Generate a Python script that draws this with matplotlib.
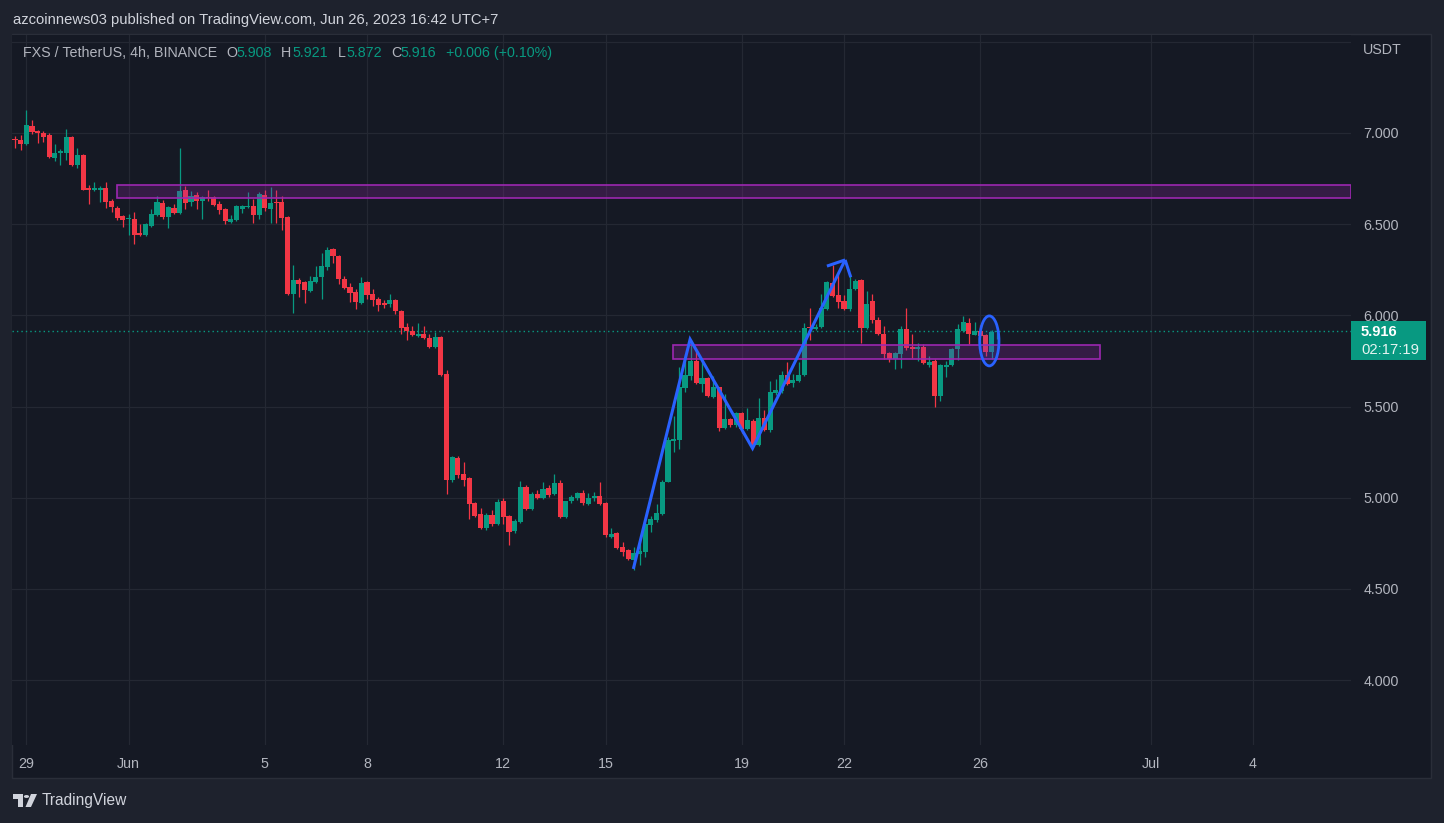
import matplotlib
matplotlib.use("Agg")
import matplotlib.pyplot as plt
import matplotlib.dates as mdates
import pandas as pd
from matplotlib.patches import Rectangle, Ellipse, Circle, Polygon

# ---------------- data (FXS/USDT 4h candles) ----------------
opens = [6.965, 6.96, 6.94, 7.038, 7.01, 7.0, 6.99, 6.86, 6.89, 6.89,
         6.978, 6.825, 6.88, 6.695, 6.69, 6.69, 6.70, 6.627, 6.59, 6.546,
         6.528, 6.53, 6.45, 6.44, 6.49, 6.55, 6.616, 6.539, 6.59, 6.56,
         6.69, 6.62, 6.66, 6.627, 6.645, 6.65, 6.61, 6.583, 6.512, 6.523,
         6.583, 6.592, 6.60, 6.55, 6.66, 6.583, 6.618, 6.62, 6.54, 6.117,
         6.194, 6.183, 6.134, 6.183, 6.21, 6.265, 6.364, 6.326, 6.20, 6.156,
         6.128, 6.068, 6.183, 6.117, 6.09, 6.068, 6.062, 6.084, 6.024, 5.936,
         5.914, 5.887, 5.90, 5.876, 5.827, 5.88, 5.679, 5.098, 5.218, 5.13,
         5.109, 4.97, 4.911, 4.834, 4.906, 4.856, 4.98, 4.90, 4.818, 4.867,
         5.06, 4.94, 5.02, 5.0, 5.054, 5.02, 5.08, 4.895, 4.98, 5.0,
         5.026, 4.966, 5.0, 5.01, 4.97, 4.785, 4.807, 4.73, 4.714, 4.659,
         4.69, 4.703, 4.85, 4.878, 4.91, 5.087, 5.31, 5.317, 5.60, 5.668,
         5.75, 5.624, 5.657, 5.553, 5.607, 5.383, 5.432, 5.40, 5.465, 5.377,
         5.421, 5.289, 5.438, 5.372, 5.575, 5.585, 5.673, 5.63, 5.642, 5.673,
         5.932, 5.925, 5.936, 6.035, 6.178, 6.112, 6.08, 6.035, 6.145, 6.194,
         5.93, 6.08, 5.975, 5.90, 5.794, 5.76, 5.788, 5.925, 5.827, 5.816,
         5.827, 5.728, 5.75, 5.558, 5.717, 5.728, 5.816, 5.914, 5.958, 5.893,
         5.914, 5.893, 5.80, 5.908]
highs = [6.984, 6.99, 7.126, 7.07, 7.016, 7.01, 7.0, 6.94, 6.912, 7.02,
         6.985, 6.918, 6.885, 6.715, 6.73, 6.71, 6.73, 6.64, 6.60, 6.55,
         6.556, 6.567, 6.50, 6.505, 6.583, 6.655, 6.633, 6.60, 6.61, 6.918,
         6.71, 6.682, 6.677, 6.655, 6.688, 6.655, 6.627, 6.59, 6.55, 6.605,
         6.605, 6.677, 6.638, 6.677, 6.688, 6.704, 6.688, 6.655, 6.545, 6.276,
         6.205, 6.19, 6.216, 6.27, 6.342, 6.375, 6.37, 6.33, 6.216, 6.178,
         6.145, 6.21, 6.19, 6.145, 6.10, 6.084, 6.117, 6.09, 6.03, 5.958,
         5.942, 5.958, 5.942, 5.898, 5.909, 5.885, 5.70, 5.23, 5.23, 5.196,
         5.115, 4.977, 4.944, 4.917, 4.933, 4.993, 5.0, 4.905, 4.884, 5.092,
         5.07, 5.032, 5.043, 5.087, 5.07, 5.13, 5.098, 4.985, 5.015, 5.032,
         5.043, 5.026, 5.032, 5.087, 4.975, 4.834, 4.81, 4.758, 4.72, 4.73,
         4.768, 4.86, 4.90, 4.966, 5.098, 5.333, 5.45, 5.717, 5.788, 5.865,
         5.81, 5.755, 5.66, 5.668, 5.61, 5.569, 5.438, 5.47, 5.47, 5.49,
         5.432, 5.547, 5.48, 5.64, 5.65, 5.695, 5.745, 5.68, 5.745, 5.958,
         6.04, 5.95, 6.117, 6.19, 6.276, 6.227, 6.112, 6.227, 6.20, 6.20,
         6.134, 6.117, 5.99, 5.94, 5.80, 5.80, 5.942, 6.04, 5.90, 5.85,
         5.843, 5.777, 5.76, 5.735, 5.75, 5.82, 5.953, 5.997, 5.986, 5.964,
         5.947, 5.90, 5.92, 5.921]
lows = [6.92, 6.907, 6.935, 6.995, 6.944, 6.95, 6.865, 6.846, 6.825, 6.85,
        6.82, 6.81, 6.685, 6.612, 6.684, 6.623, 6.59, 6.569, 6.523, 6.486,
        6.44, 6.39, 6.435, 6.435, 6.485, 6.545, 6.53, 6.48, 6.555, 6.555,
        6.583, 6.60, 6.583, 6.53, 6.627, 6.60, 6.556, 6.50, 6.507, 6.518,
        6.561, 6.588, 6.507, 6.53, 6.572, 6.507, 6.507, 6.468, 6.11, 6.013,
        6.10, 6.068, 6.13, 6.18, 6.09, 6.25, 6.287, 6.172, 6.145, 6.073,
        6.035, 6.06, 6.09, 6.05, 6.024, 6.04, 6.046, 6.008, 5.898, 5.865,
        5.888, 5.882, 5.87, 5.82, 5.82, 5.668, 5.02, 5.087, 5.109, 5.065,
        4.884, 4.895, 4.83, 4.823, 4.845, 4.85, 4.856, 4.74, 4.807, 4.86,
        4.935, 4.933, 4.995, 4.995, 5.004, 5.015, 4.889, 4.89, 4.97, 4.99,
        4.96, 4.96, 4.98, 4.96, 4.785, 4.78, 4.72, 4.68, 4.66, 4.604,
        4.63, 4.675, 4.813, 4.867, 4.905, 5.085, 5.25, 5.268, 5.58, 5.646,
        5.624, 5.58, 5.55, 5.547, 5.366, 5.377, 5.388, 5.388, 5.355, 5.37,
        5.284, 5.284, 5.366, 5.36, 5.564, 5.575, 5.62, 5.607, 5.635, 5.67,
        5.865, 5.92, 5.93, 6.03, 6.10, 6.04, 6.03, 6.024, 6.14, 5.85,
        5.925, 5.958, 5.893, 5.76, 5.745, 5.706, 5.71, 5.81, 5.766, 5.75,
        5.733, 5.717, 5.498, 5.53, 5.66, 5.722, 5.755, 5.91, 5.843, 5.89,
        5.88, 5.777, 5.76, 5.872]
closes = [6.96, 6.94, 7.044, 7.007, 7.0, 6.98, 6.87, 6.89, 6.90, 6.978,
          6.825, 6.88, 6.69, 6.69, 6.695, 6.70, 6.62, 6.594, 6.536, 6.523,
          6.532, 6.44, 6.44, 6.50, 6.556, 6.62, 6.54, 6.594, 6.56, 6.68,
          6.616, 6.655, 6.627, 6.65, 6.641, 6.605, 6.578, 6.518, 6.53, 6.60,
          6.60, 6.596, 6.55, 6.666, 6.589, 6.616, 6.614, 6.534, 6.117, 6.194,
          6.17, 6.14, 6.19, 6.21, 6.27, 6.36, 6.326, 6.20, 6.15, 6.123,
          6.073, 6.18, 6.112, 6.084, 6.057, 6.057, 6.084, 6.024, 5.93, 5.914,
          5.893, 5.90, 5.876, 5.827, 5.88, 5.673, 5.098, 5.224, 5.125, 5.10,
          4.966, 4.90, 4.834, 4.906, 4.856, 4.977, 4.895, 4.81, 4.873, 5.06,
          4.94, 5.02, 5.0, 5.048, 5.015, 5.08, 4.895, 4.98, 5.004, 5.026,
          4.97, 5.0, 5.01, 4.966, 4.796, 4.80, 4.725, 4.703, 4.664, 4.697,
          4.708, 4.856, 4.884, 4.917, 5.087, 5.317, 5.32, 5.61, 5.673, 5.75,
          5.63, 5.657, 5.558, 5.607, 5.383, 5.432, 5.40, 5.465, 5.377, 5.427,
          5.289, 5.438, 5.372, 5.58, 5.59, 5.673, 5.624, 5.646, 5.673, 5.93,
          5.928, 5.936, 6.04, 6.183, 6.106, 6.073, 6.035, 6.145, 6.19, 5.93,
          6.06, 5.975, 5.898, 5.788, 5.76, 5.794, 5.925, 5.82, 5.816, 5.827,
          5.74, 5.745, 5.558, 5.728, 5.728, 5.816, 5.925, 5.964, 5.90, 5.914,
          5.887, 5.80, 5.909, 5.916]

first_bar = "2023-05-28 19:00"
date_ticks = ["2023-05-29 03:00", "2023-06-01 03:00", "2023-06-05 03:00", "2023-06-08 03:00",
              "2023-06-12 03:00", "2023-06-15 03:00", "2023-06-19 03:00", "2023-06-22 03:00",
              "2023-06-26 03:00", "2023-07-01 03:00", "2023-07-04 03:00"]
date_labels = ["29", "Jun", "5", "8", "12", "15", "19", "22", "26", "Jul", "4"]
price_ticks = [4.0, 4.5, 5.0, 5.5, 6.0, 6.5, 7.0, 7.5]

# drawings (bar index, price)
zone1_bars = [18.0, None]           # extends to the right
zone1_prices = [6.644, 6.715]
zone2_bars = [115.96, 191.1]
zone2_prices = [5.760, 5.838]
zig_bars = [108.9, 118.9, 129.9, 146.2]
zig_prices = [4.61, 5.869, 5.271, 6.304]
arrow_arm_bars = [143.0, 147.2]
arrow_arm_prices = [6.27, 6.209]
ellipse_bar, ellipse_price = 171.6, 5.86
ellipse_w_bars, ellipse_h_price = 3.4, 0.274

# ---------------- figure ----------------
W, H = 1444, 823
BG_OUT = "#1e222d"
BG = "#151924"
GRID = "#242833"
TXT = "#b2b5be"
UP = "#089981"
DN = "#f23645"
BLUE = "#2962ff"
PURP = "#9c27b0"
FONT = "Liberation Sans"

fig = plt.figure(figsize=(W / 100, H / 100), dpi=100, facecolor=BG_OUT)


def fx(px):
    return px / W


def fy(py):
    return 1 - py / H


# chart panel background (behind the axes)
fig.patches.append(Rectangle((fx(12), fy(778)), fx(1431) - fx(12), fy(34) - fy(778),
                             transform=fig.transFigure, facecolor=BG, edgecolor="#2a2e39",
                             lw=1, zorder=-10))

ax = fig.add_axes([fx(12), fy(745), (1351 - 12) / W, (745 - 35) / H])
ax.set_zorder(1)
ax.set_facecolor(BG)
for s in ax.spines.values():
    s.set_visible(False)

step = 4 / 24
times = pd.date_range(first_bar, periods=len(closes), freq="4h")
xs = mdates.date2num(times)
x0 = xs[0]


def bx(i):
    return x0 + i * step


ax.set_xlim(bx(-0.53), bx(235.3))
ax.set_ylim(3.6447, 7.537)

# grid
tick_x = mdates.date2num(pd.to_datetime(date_ticks))
for t in tick_x:
    ax.axvline(t, color=GRID, lw=0.9, zorder=0)
for p in price_ticks:
    ax.axhline(p, color=GRID, lw=0.9, zorder=0)

# candles
colors = [UP if c >= o else DN for o, c in zip(opens, closes)]
bottoms = [min(o, c) for o, c in zip(opens, closes)]
heights = [max(abs(c - o), 0.006) for o, c in zip(opens, closes)]
ax.vlines(xs, lows, highs, colors=colors, lw=0.9, zorder=2)
ax.bar(xs, heights, bottom=bottoms, width=0.9 * step, color=colors, linewidth=0, zorder=3)

# last price dotted line
ax.axhline(closes[-1], color=UP, lw=1.0, ls=(0, (1, 2.2)), zorder=1)

# zones
xr = ax.get_xlim()[1]
z1_left = bx(zone1_bars[0])
ax.add_patch(Rectangle((z1_left, zone1_prices[0]), xr - z1_left, zone1_prices[1] - zone1_prices[0],
                       facecolor=PURP, alpha=0.24, edgecolor="none", zorder=4))
ax.add_patch(Rectangle((z1_left, zone1_prices[0]), xr - z1_left, zone1_prices[1] - zone1_prices[0],
                       facecolor="none", edgecolor=PURP, lw=1.2, zorder=4))
z2_left, z2_right = bx(zone2_bars[0]), bx(zone2_bars[1])
ax.add_patch(Rectangle((z2_left, zone2_prices[0]), z2_right - z2_left, zone2_prices[1] - zone2_prices[0],
                       facecolor=PURP, alpha=0.24, edgecolor="none", zorder=4))
ax.add_patch(Rectangle((z2_left, zone2_prices[0]), z2_right - z2_left, zone2_prices[1] - zone2_prices[0],
                       facecolor="none", edgecolor=PURP, lw=1.2, zorder=4))

# zigzag + arrow head
ax.plot([bx(b) for b in zig_bars], zig_prices, color=BLUE, lw=2.2, zorder=5,
        solid_joinstyle="miter", solid_capstyle="butt")
tip_x, tip_y = bx(zig_bars[-1]), zig_prices[-1]
for ab, ap in zip(arrow_arm_bars, arrow_arm_prices):
    ax.plot([bx(ab), tip_x], [ap, tip_y], color=BLUE, lw=2.2, zorder=5, solid_capstyle="butt")

# ellipse
ax.add_patch(Ellipse((bx(ellipse_bar), ellipse_price), ellipse_w_bars * step, ellipse_h_price,
                     facecolor=BLUE, alpha=0.12, edgecolor="none", zorder=5))
ax.add_patch(Ellipse((bx(ellipse_bar), ellipse_price), ellipse_w_bars * step, ellipse_h_price,
                     facecolor="none", edgecolor=BLUE, lw=2.0, zorder=5))

# x ticks
ax.set_xticks(tick_x)
ax.set_xticklabels(date_labels, fontsize=10.3, color=TXT, family=FONT)
ax.tick_params(axis="x", length=0, pad=9)

# y ticks (right)
ax.yaxis.tick_right()
ax.set_yticks(price_ticks)
ax.set_yticklabels([f"{p:.3f}" if p <= 7.0 else "" for p in price_ticks],
                   fontsize=10.3, color=TXT, family=FONT)
ax.tick_params(axis="y", length=0, pad=9)

# header & legend
fig.text(fx(13), fy(20), "azcoinnews03 published on TradingView.com, Jun 26, 2023 16:42 UTC+7",
         color="#d1d4dc", fontsize=10.6, family=FONT, va="center", ha="left")
fig.text(fx(23), fy(53), "FXS / TetherUS, 4h, BINANCE", color=TXT, fontsize=10.3,
         family=FONT, va="center", ha="left", zorder=10)
legend_parts = [(226, "O", TXT), (236, "5.908", UP), (281, "H", TXT), (292, "5.921", UP),
                (338, "L", TXT), (346, "5.872", UP), (391, "C", TXT), (400, "5.916", UP),
                (446, "+0.006 (+0.10%)", UP)]
for px, s, col in legend_parts:
    fig.text(fx(px), fy(53), s, color=col, fontsize=10.3, family=FONT, va="center", ha="left",
             zorder=10)

fig.text(fx(1363), fy(50), "USDT", color=TXT, fontsize=10.3, family=FONT, va="center", ha="left",
         zorder=10)

# last price label
fig.patches.append(Rectangle((fx(1351), fy(360)), fx(1426) - fx(1351), fy(321) - fy(360),
                             transform=fig.transFigure, facecolor=UP, edgecolor="none", zorder=5))
fig.text(fx(1361), fy(331.5), f"{closes[-1]:.3f}", color="white", fontsize=10.6, family=FONT,
         fontweight="bold", va="center", ha="left", zorder=6)
fig.text(fx(1361), fy(349.5), "02:17:19", color="#e6f4f1", fontsize=10.6, family=FONT,
         va="center", ha="left", zorder=6)

# TradingView footer logo
LOGO = "#d1d4dc"
fig.patches.append(Rectangle((fx(13), fy(799)), fx(23) - fx(13), fy(794) - fy(799),
                             transform=fig.transFigure, facecolor=LOGO, edgecolor="none"))
fig.patches.append(Rectangle((fx(18), fy(807)), fx(23) - fx(18), fy(794) - fy(807),
                             transform=fig.transFigure, facecolor=LOGO, edgecolor="none"))
fig.patches.append(Circle((fx(26.5), fy(796.5)), 2.6 / W, transform=fig.transFigure,
                          facecolor=LOGO, edgecolor="none"))
fig.patches.append(Polygon([(fx(31), fy(794)), (fx(37), fy(794)), (fx(31), fy(807)), (fx(25.5), fy(807))],
                           closed=True, transform=fig.transFigure, facecolor=LOGO, edgecolor="none"))
fig.text(fx(42), fy(801), "TradingView", color=LOGO, fontsize=11.2, family=FONT,
         va="center", ha="left")

fig.savefig("out.png", dpi=100, facecolor=BG_OUT)
